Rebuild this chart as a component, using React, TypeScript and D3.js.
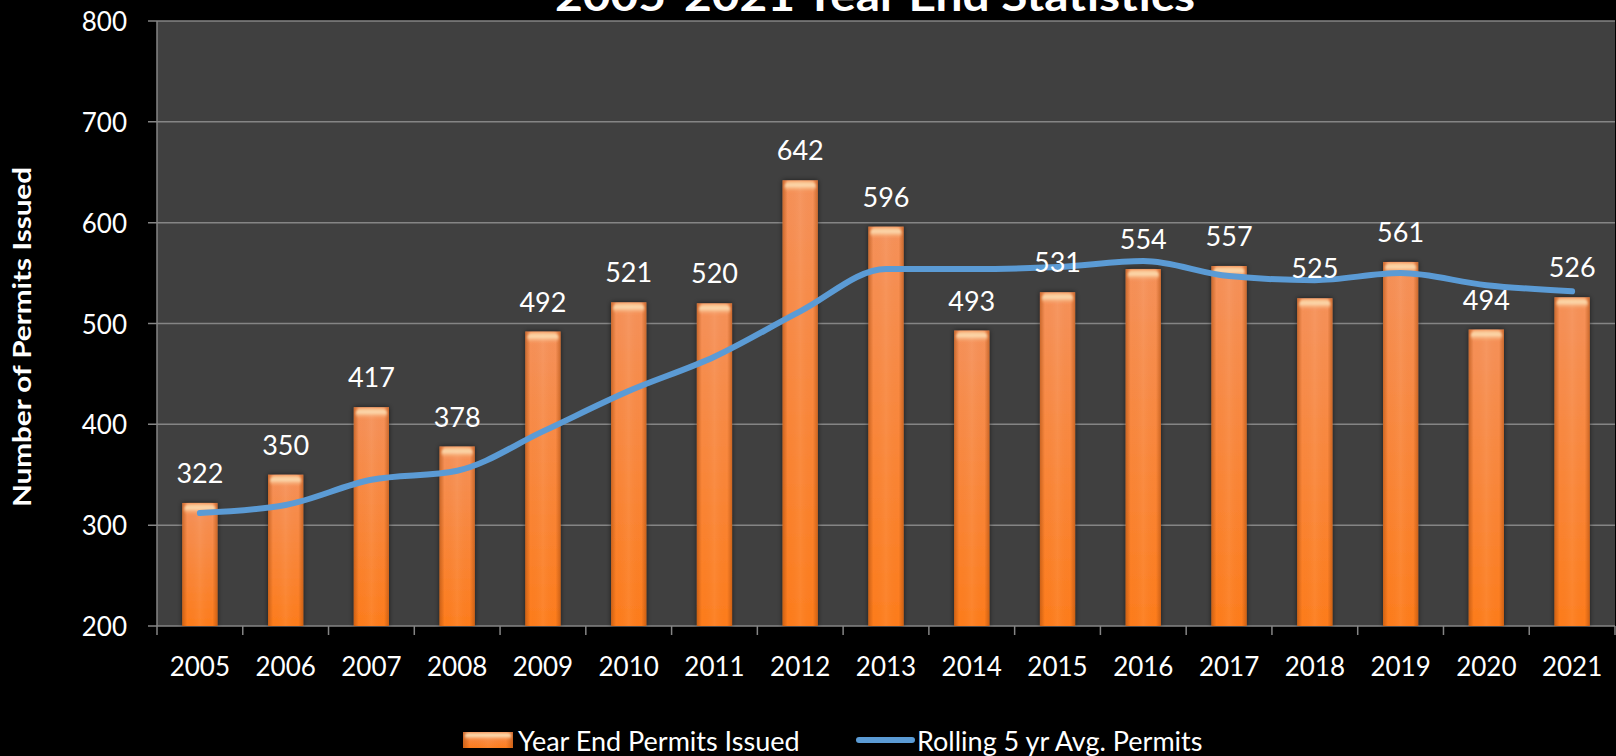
import * as d3 from 'd3';
import { useEffect, useRef } from 'react';

const years = ['2005', '2006', '2007', '2008', '2009', '2010', '2011', '2012', '2013', '2014', '2015', '2016', '2017', '2018', '2019', '2020', '2021'];
const permits = [322, 350, 417, 378, 492, 521, 520, 642, 596, 493, 531, 554, 557, 525, 561, 494, 526];
const rolling = [312, 320, 345, 354, 393, 433, 467, 512, 554, 554, 556, 562, 547, 543, 550, 538, 532];
const yTicks = [200, 300, 400, 500, 600, 700, 800];

const FONT = 'Lato, "Open Sans", sans-serif';

export default function App() {
  const svgRef = useRef<SVGSVGElement | null>(null);

  useEffect(() => {
    document.body.style.margin = '0';
    document.body.style.background = '#000';
    if (!svgRef.current) return;

    const width = 1616;
    const height = 756;
    const left = 157;
    const right = 1615;
    const top = 21;
    const bottom = 626;

    const svg = d3.select(svgRef.current);
    svg.selectAll('*').remove();
    svg.attr('width', width).attr('height', height).attr('font-family', FONT);

    const x = d3.scaleBand<string>().domain(years).range([left, right]).paddingInner(0.59).paddingOuter(0.295);
    const y = d3.scaleLinear().domain([200, 800]).range([bottom, top]);
    const step = x.step();

    // fondo
    svg.append('rect').attr('width', width).attr('height', height).attr('fill', '#000');
    svg.append('rect')
      .attr('x', left).attr('y', top)
      .attr('width', right - left).attr('height', bottom - top)
      .attr('fill', '#404040');

    const defs = svg.append('defs');
    const gv = defs.append('linearGradient').attr('id', 'barV').attr('x1', 0).attr('y1', 0).attr('x2', 0).attr('y2', 1);
    gv.append('stop').attr('offset', '0%').attr('stop-color', '#f5915a');
    gv.append('stop').attr('offset', '100%').attr('stop-color', '#fd7c1c');

    const gh = defs.append('linearGradient').attr('id', 'barH').attr('x1', 0).attr('y1', 0).attr('x2', 1).attr('y2', 0);
    gh.append('stop').attr('offset', '0%').attr('stop-color', '#a84a0c').attr('stop-opacity', 0.55);
    gh.append('stop').attr('offset', '14%').attr('stop-color', '#a84a0c').attr('stop-opacity', 0);
    gh.append('stop').attr('offset', '50%').attr('stop-color', '#ffffff').attr('stop-opacity', 0.06);
    gh.append('stop').attr('offset', '86%').attr('stop-color', '#a84a0c').attr('stop-opacity', 0);
    gh.append('stop').attr('offset', '100%').attr('stop-color', '#a84a0c').attr('stop-opacity', 0.55);

    const gc = defs.append('linearGradient').attr('id', 'barCap').attr('x1', 0).attr('y1', 0).attr('x2', 0).attr('y2', 1);
    gc.append('stop').attr('offset', '0%').attr('stop-color', '#f9c48e');
    gc.append('stop').attr('offset', '40%').attr('stop-color', '#fde2b8');
    gc.append('stop').attr('offset', '100%').attr('stop-color', '#f6a066').attr('stop-opacity', 0);

    defs.append('filter').attr('id', 'soft')
      .append('feGaussianBlur').attr('stdDeviation', 1.2);

    defs.append('filter').attr('id', 'shadow')
      .attr('x', '-30%').attr('y', '-10%').attr('width', '160%').attr('height', '120%')
      .append('feDropShadow')
      .attr('dx', 0).attr('dy', 0).attr('stdDeviation', 2.5)
      .attr('flood-color', '#000').attr('flood-opacity', 0.6);

    // grid
    svg.append('g')
      .selectAll('line')
      .data(yTicks)
      .join('line')
      .attr('x1', left - 9).attr('x2', right)
      .attr('y1', d => y(d)).attr('y2', d => y(d))
      .attr('stroke', '#858585').attr('stroke-width', 1.5);

    // ejes
    svg.append('line')
      .attr('x1', left).attr('x2', left).attr('y1', top).attr('y2', bottom)
      .attr('stroke', '#858585').attr('stroke-width', 1.5);

    const xTickPos = d3.range(years.length + 1).map(i => left + i * step);
    svg.append('g')
      .selectAll('line')
      .data(xTickPos)
      .join('line')
      .attr('x1', d => d).attr('x2', d => d)
      .attr('y1', bottom).attr('y2', bottom + 9)
      .attr('stroke', '#858585').attr('stroke-width', 1.5);

    svg.append('g')
      .selectAll('text')
      .data(yTicks)
      .join('text')
      .attr('x', 127).attr('y', d => y(d))
      .attr('text-anchor', 'end').attr('dominant-baseline', 'central')
      .attr('fill', '#fff').attr('font-size', 26)
      .text(d => d);

    svg.append('g')
      .selectAll('text')
      .data(years)
      .join('text')
      .attr('x', d => x(d)! + x.bandwidth() / 2).attr('y', 676)
      .attr('text-anchor', 'middle')
      .attr('fill', '#fff').attr('font-size', 26)
      .text(d => d);

    // barras
    const bars = svg.append('g')
      .selectAll('g')
      .data(years.map((yr, i) => ({ yr, v: permits[i] })))
      .join('g');

    bars.append('rect')
      .attr('x', d => x(d.yr)!).attr('y', d => y(d.v))
      .attr('width', x.bandwidth()).attr('height', d => bottom - y(d.v))
      .attr('fill', 'url(#barV)')
      .attr('filter', 'url(#shadow)');
    bars.append('rect')
      .attr('x', d => x(d.yr)!).attr('y', d => y(d.v))
      .attr('width', x.bandwidth()).attr('height', d => bottom - y(d.v))
      .attr('fill', 'url(#barH)');
    bars.append('rect')
      .attr('x', d => x(d.yr)! + 2).attr('y', d => y(d.v) + 1)
      .attr('width', x.bandwidth() - 4).attr('height', 11)
      .attr('rx', 5)
      .attr('opacity', 0.9)
      .attr('filter', 'url(#soft)')
      .attr('fill', 'url(#barCap)');

    // línea promedio
    const line = d3.line<number>()
      .x((_, i) => x(years[i])! + x.bandwidth() / 2)
      .y(d => y(d))
      .curve(d3.curveMonotoneX);

    svg.append('path')
      .datum(rolling)
      .attr('d', line)
      .attr('fill', 'none')
      .attr('stroke', '#5b9bd5')
      .attr('stroke-width', 6)
      .attr('stroke-linecap', 'round')
      .attr('stroke-linejoin', 'round');

    // etiquetas
    svg.append('g')
      .selectAll('text')
      .data(years.map((yr, i) => ({ yr, v: permits[i] })))
      .join('text')
      .attr('x', d => x(d.yr)! + x.bandwidth() / 2)
      .attr('y', d => y(d.v) - 20)
      .attr('text-anchor', 'middle')
      .attr('fill', '#fff').attr('font-size', 27)
      .text(d => d.v);

    // títulos
    svg.append('text')
      .attr('x', 875).attr('y', 11)
      .attr('text-anchor', 'middle')
      .attr('fill', '#fff').attr('font-size', 42).attr('font-weight', 'bold')
      .attr('textLength', 640).attr('lengthAdjust', 'spacingAndGlyphs')
      .text('2005-2021 Year End Statistics');

    svg.append('text')
      .attr('transform', 'translate(31,337) rotate(-90)')
      .attr('text-anchor', 'middle')
      .attr('fill', '#fff').attr('font-size', 24).attr('font-weight', 'bold')
      .attr('textLength', 340).attr('lengthAdjust', 'spacingAndGlyphs')
      .text('Number of Permits Issued');

    // leyenda
    const lg = svg.append('g');
    lg.append('rect').attr('x', 463).attr('y', 732).attr('width', 50).attr('height', 16).attr('fill', 'url(#barV)');
    lg.append('rect').attr('x', 463).attr('y', 732).attr('width', 50).attr('height', 16).attr('fill', 'url(#barH)');
    lg.append('rect').attr('x', 465).attr('y', 733).attr('width', 46).attr('height', 7).attr('rx', 3)
      .attr('filter', 'url(#soft)').attr('fill', 'url(#barCap)');
    lg.append('text').attr('x', 518).attr('y', 740).attr('dominant-baseline', 'central')
      .attr('fill', '#fff').attr('font-size', 27).text('Year End Permits Issued');
    lg.append('line').attr('x1', 859).attr('x2', 912).attr('y1', 740).attr('y2', 740)
      .attr('stroke', '#5b9bd5').attr('stroke-width', 6).attr('stroke-linecap', 'round');
    lg.append('text').attr('x', 917).attr('y', 740).attr('dominant-baseline', 'central')
      .attr('fill', '#fff').attr('font-size', 27).text('Rolling 5 yr Avg. Permits');
  }, []);

  return <svg ref={svgRef} style={{ display: 'block' }} />;
}
